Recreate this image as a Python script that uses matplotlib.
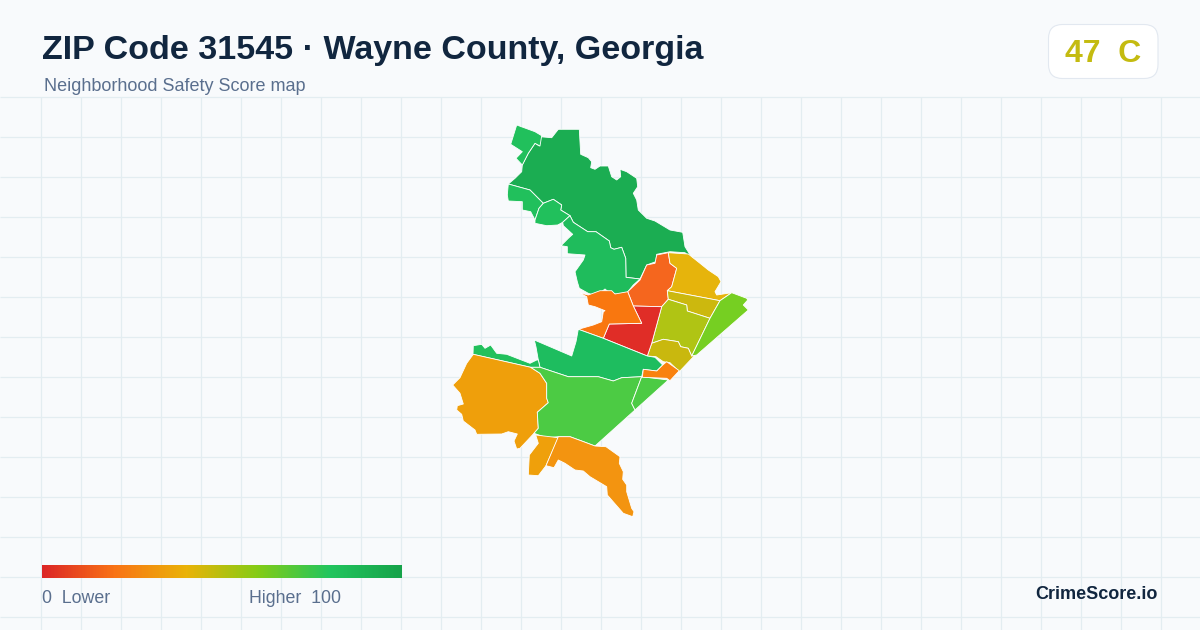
import numpy as np
import matplotlib
matplotlib.use('Agg')
import matplotlib.pyplot as plt
from matplotlib.colors import LinearSegmentedColormap
from matplotlib.patches import FancyBboxPatch

plt.rcParams['font.family'] = ['Liberation Sans', 'DejaVu Sans']

# tract outlines in pixel coordinates
north_big = [(540,136.7),(551.7,137.7),(558.3,129.3),(579.3,129.3),(580.7,154.3),(588.3,157.7),(591.7,161.7),(590.7,167.7),(595,169.3),(600,166),(608.3,166),(611.7,176.7),(616.7,180),(620.7,176.7),(620,169.3),(626.7,171.7),(636.7,178.3),(637.7,186.7),(633.3,193.3),(636.7,200),(638.3,210),(646.7,218.3),(655,221),(670,230),(682.7,232.3),(685,246.7),(693.3,260),(685,252.7),(670,251.7),(656.7,254.3),(655.7,261.7),(646.7,265),(640,279),(626,277.3),(625.7,258.3),(621.7,247.3),(614,249.3),(610.7,247.7),(609.3,241),(596,231.7),(587.7,231.7),(573.3,222.3),(570,215.7),(560.7,210),(561.7,205),(553.3,199.3),(543.3,203.3),(530,190),(508.3,184),(515,178.3),(521.7,171.7),(522.3,165),(528.3,153.3),(535,143.3),(539.3,146)]
north_tip = [(516.7,125),(535,131.7),(541.7,135.7),(540,146),(535,143.3),(528.3,153.3),(522.3,165),(516,158.3),(522.3,151.7),(510.7,144.3)]
north_west = [(508.3,184),(530,190),(543.3,203.3),(539,208.3),(535,220),(530.7,211.7),(522.3,210),(522.3,201.7),(508.3,201),(507.3,195)]
north_mid = [(543.3,203.3),(553.3,199.3),(561.7,205),(560.7,210),(570,215.7),(562.7,222.3),(557.7,225),(546.7,225.7),(535,223.3),(535,220),(539,208.3)]
north_south = [(570,215.7),(573.3,222.3),(587.7,231.7),(596,231.7),(609.3,241),(610.7,247.7),(614,249.3),(621.7,247.3),(625.7,258.3),(626,277.3),(640,279),(633.3,285),(627.3,292.3),(618.3,294.3),(610,293.3),(605,289),(596,296),(588.3,293.3),(579.3,288.3),(577.3,281.7),(575,271.7),(583.3,260),(585,255),(567.3,253.7),(567.3,246.7),(561,245.7),(568.3,238.3),(572.7,234.3),(563.3,225.7),(562.7,222.3)]
center_north = [(668.3,252.7),(670,263.3),(676.7,268.3),(671.7,286.7),(667.3,290.7),(668.3,299.3),(661.7,306.7),(633.3,306),(627.7,291.7),(640,280),(646.7,265),(655,263.3),(656.7,255)]
east_top = [(668.3,252.7),(688.3,254),(700,263.3),(708.3,270),(718.3,276.7),(721,281.7),(715,291.7),(716.7,295),(731.7,292.7),(720,300.7),(667.3,290.7),(671.7,286.7),(676.7,268.3),(670,263.3)]
east_band = [(667.3,290.7),(720,300.7),(710,318.3),(687.3,311),(686.7,305),(668.3,299.3)]
east_mid = [(668.3,299.3),(686.7,305),(687.3,311),(710,318.3),(691.7,356),(688.3,348.3),(680.7,346.7),(678.3,341.7),(663.3,339.3),(651.7,343.3),(661.7,306.7)]
east_low = [(651.7,343.3),(663.3,339.3),(678.3,341.7),(680.7,346.7),(688.3,348.3),(691.7,356),(696.7,353.3),(679.3,371.7),(670,362.7),(663.3,361.7),(656,356.7),(647.3,356)]
east_coast = [(731.7,292.7),(746.7,298.3),(747.7,300),(743.3,305),(748.3,310),(696.7,355),(691.7,356),(710,318.3),(720,300.7)]
center_red = [(633.3,306),(661.7,306.7),(651.7,343.3),(647.3,356),(603.3,338.3),(609.3,324),(641.7,323.3)]
center_west = [(579,292.7),(588.3,295),(600,290.7),(611.7,290.7),(615,294),(627.7,291.7),(633.3,306),(641.7,323.3),(609.3,324),(603.3,338.3),(578.3,329.3),(593.3,325),(601.7,321.7),(603.3,311.7),(605,310.7),(595,306.7),(588.3,305),(586.7,296.7)]
south_band = [(534.3,340),(536,347),(538.3,360),(540,367.3),(568.3,376.7),(598.3,376.7),(613.3,381),(621.7,377.7),(641.7,376.7),(643.3,369.3),(656.7,371),(662.7,365),(655,357.3),(647.3,356),(603.3,338.3),(578.3,329.3),(576,341.7),(571.7,356)]
south_sliver = [(473.3,345.7),(481.7,344.3),(485,348.3),(490.7,345),(496.7,353.3),(506.7,354.3),(530,363.3),(536.7,360),(538.3,360),(540,367.3),(530.7,367.3),(473,354.3)]
west_big = [(473.3,354.3),(530.7,367.3),(540,373.3),(546.7,383.3),(546.7,398.3),(548.3,402.7),(537.3,412.3),(538.3,428.3),(534,433.3),(520,448.3),(516.7,449),(514,441),(517.3,434),(508.3,431.7),(501.7,434),(476.7,434.3),(475,430),(463.3,421),(461.7,414.3),(456.7,410),(457.3,405.7),(463.3,404),(460,393.3),(452.7,385),(460,377.7),(466.7,363.3)]
south_big = [(530.7,367.3),(540,367.3),(568.3,376.7),(598.3,376.7),(613.3,381),(621.7,377.7),(641.7,376.7),(631.7,403.3),(635,410),(595,446),(581.7,441),(570,436.7),(558.3,436.7),(546.7,437.7),(534,433.3),(538.3,428.3),(537.3,412.3),(548.3,402.7),(546.7,398.3),(546.7,383.3),(540,373.3)]
south_strip = [(641.7,376.7),(668.3,380),(635,410),(631.7,403.3)]
strip_orange = [(643.3,369.3),(656.7,371),(662.7,365),(666.7,361.7),(679.3,370.7),(670,380.7),(666.7,378.3),(642.3,377.3)]
south_tail = [(535.7,435),(558.3,437.7),(546,465.7),(538.3,475.7),(528.3,475),(529.3,455),(538.3,443.3)]
south_long = [(558.3,436.7),(570,436.7),(581.7,441),(595,446),(606,446.7),(620,456.7),(619.3,463.3),(623.3,471.7),(622.7,479.3),(626.7,485),(626.7,491.7),(631.7,508.3),(634,511.7),(632.7,516.7),(623.3,513.3),(607.3,495),(606.7,486.7),(590,476.7),(583.3,471),(575,470),(565,463.3),(558.3,460),(554,467.7),(546,465.7)]

tracts = [north_big, north_tip, north_west, north_mid, north_south, center_north,
          east_top, east_band, east_mid, east_low, east_coast, center_red, center_west,
          south_band, south_sliver, west_big, south_big, south_strip, strip_orange,
          south_tail, south_long]
tract_colors = ['#1bad52', '#21c05c', '#21c05c', '#21c05c', '#1fbc5c', '#f5661e',
                '#e6b40c', '#ccb80e', '#b0c414', '#c9b80e', '#76cf22', '#e02d27', '#f9770f',
                '#1ebd5f', '#21c05c', '#ef9f0b', '#4ccb44', '#4ccb44', '#f9820f',
                '#efa00b', '#f39410']

legend_colors = ['#dc2626', '#f97316', '#eab308', '#84cc16', '#22c55e', '#16a34a']

title = 'ZIP Code 31545 · Wayne County, Georgia'
subtitle = 'Neighborhood Safety Score map'
score_text = '47  C'

BG = '#f8fafc'
GRID = '#e3edf1'
NAVY = '#11263f'
SLATE = '#5a6f8e'

fig = plt.figure(figsize=(12, 6.3), dpi=100, facecolor=BG)
ax = fig.add_axes([0, 0, 1, 1])
ax.set_xlim(0, 1200)
ax.set_ylim(630, 0)
ax.axis('off')

# background grid starts under the header
ax.vlines(np.arange(40.5, 1200, 40), 97, 630, color=GRID, lw=0.9, zorder=1)
ax.hlines(np.arange(97, 630, 40), 0, 1200, color=GRID, lw=0.9, zorder=1)

for pts, col in zip(tracts, tract_colors):
    xs, ys = zip(*pts)
    ax.fill(xs, ys, facecolor=col, edgecolor='white', lw=0.6, joinstyle='round', zorder=3)

ax.text(42, 59, title, fontsize=24.45, fontweight='bold', color=NAVY, va='baseline', ha='left')
ax.text(44, 91, subtitle, fontsize=12.95, color=SLATE, va='baseline', ha='left')

# score badge
badge = FancyBboxPatch((1048.5, 24.5), 109.5, 54, boxstyle='round,pad=0,rounding_size=14',
                       facecolor='white', edgecolor='#e2e8f0', lw=0.8, zorder=4)
ax.add_patch(badge)
ax.text(1103, 62, score_text, fontsize=23, fontweight='bold', color='#c4bb10',
        va='baseline', ha='center', zorder=5)

# legend bar
cmap = LinearSegmentedColormap.from_list('score', legend_colors)
ax.imshow(np.linspace(0, 1, 360).reshape(1, -1), cmap=cmap, aspect='auto',
          extent=(42, 402, 578, 565), zorder=4)
ax.set_xlim(0, 1200)
ax.set_ylim(630, 0)
ax.text(42, 603, '0  Lower', fontsize=12.8, color=SLATE, va='baseline', ha='left', zorder=5)
ax.text(249, 603, 'Higher  100', fontsize=12.8, color=SLATE, va='baseline', ha='left', zorder=5)
ax.text(1158, 599, 'CrimeScore.io', fontsize=13, fontweight='bold', color=NAVY,
        va='baseline', ha='right', zorder=5)

fig.savefig('out.png', dpi=100, facecolor=BG)
plt.close()
